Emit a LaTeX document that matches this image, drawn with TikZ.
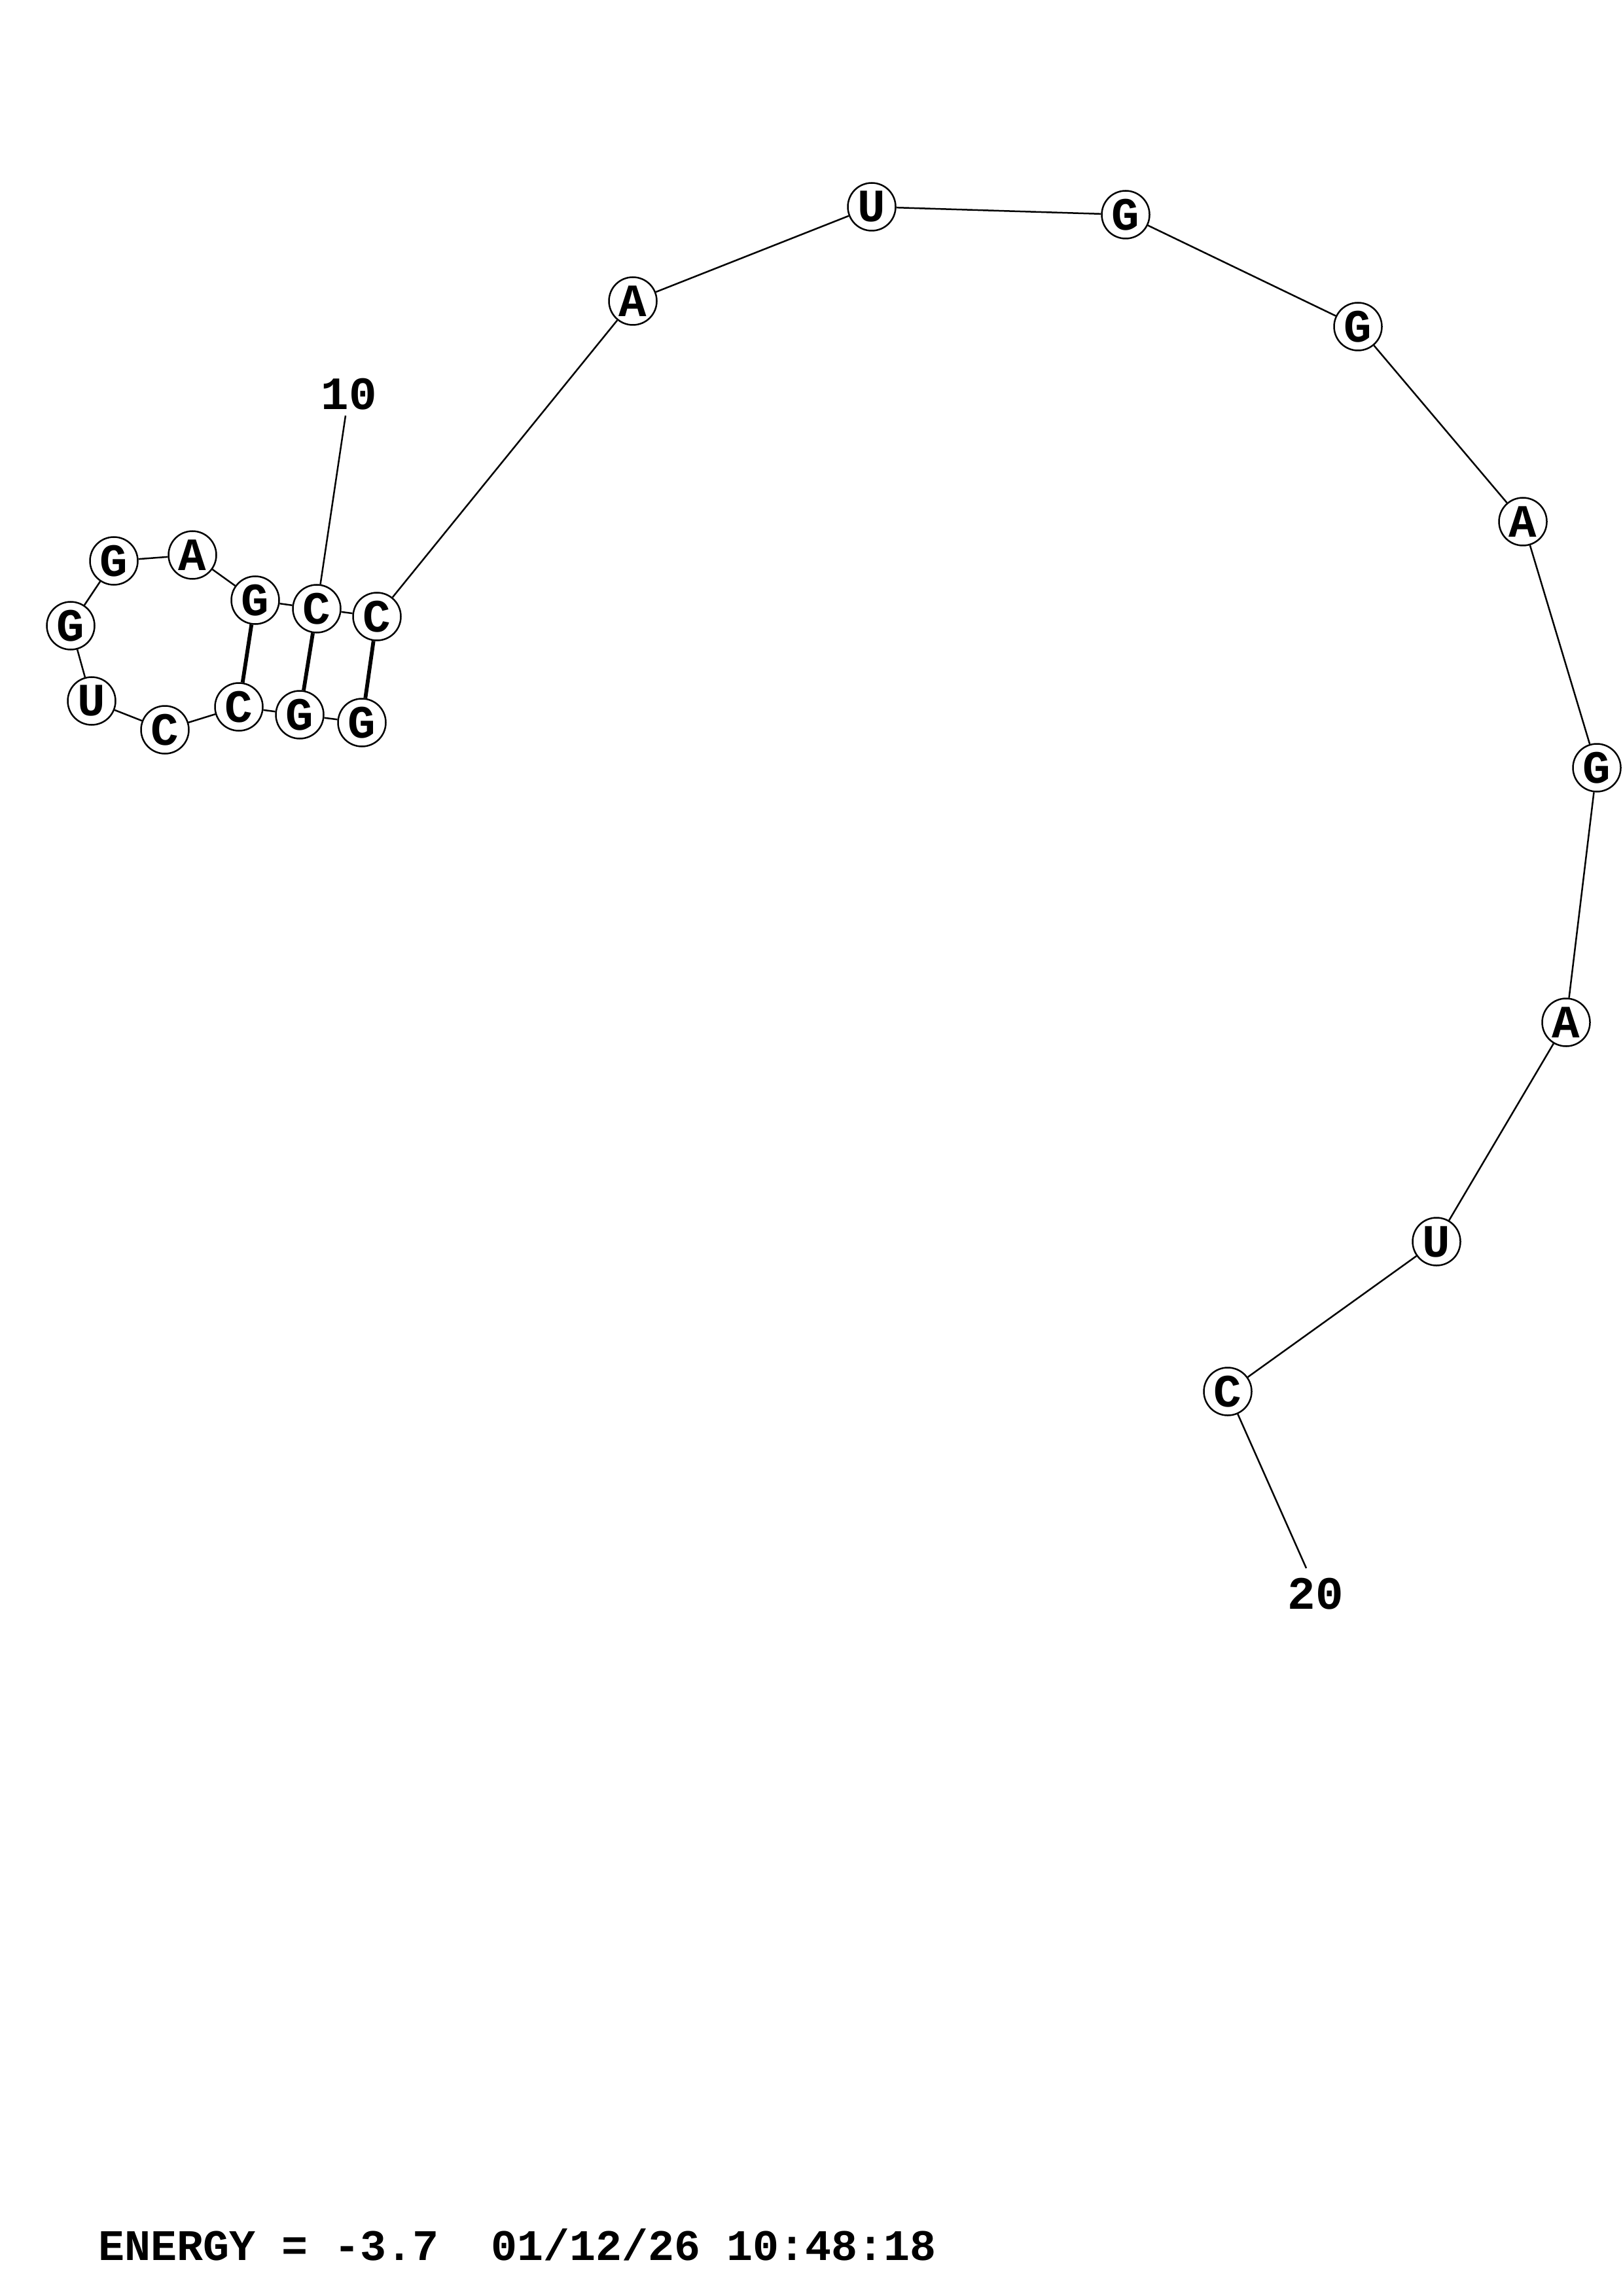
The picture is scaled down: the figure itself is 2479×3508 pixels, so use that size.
\documentclass[tikz,border=0pt]{standalone}
\usepackage{fontspec}
\setmonofont{Liberation Mono}
\begin{document}
\begin{tikzpicture}[x=0.24pt,y=-0.24pt,
  base/.style={circle,draw,line width=0.6pt,fill=white,minimum size=73*0.24pt,inner sep=0pt,font=\ttfamily\bfseries\fontsize{17}{17}\selectfont},
  bb/.style={line width=0.6pt},
  pair/.style={line width=1.4pt},
  lbl/.style={font=\ttfamily\bfseries\fontsize{17}{17}\selectfont,inner sep=0pt}]
\useasboundingbox (0,0) rectangle (2479,3508);
\fill[white] (0,0) rectangle (2479,3508);
\coordinate (e10) at (528,635);
\coordinate (e20) at (1996,2396);
\node[base] (n1) at (553,1104) {G};
\node[base] (n2) at (458,1092) {G};
\node[base] (n3) at (365,1080) {C};
\node[base] (n4) at (252,1115) {C};
\node[base] (n5) at (140,1071) {U};
\node[base] (n6) at (108,956) {G};
\node[base] (n7) at (174,857) {G};
\node[base] (n8) at (294,848) {A};
\node[base] (n9) at (390,917) {G};
\node[base] (n10) at (484,930) {C};
\node[base] (n11) at (576,942) {C};
\node[base] (n12) at (967,460) {A};
\node[base] (n13) at (1332,316) {U};
\node[base] (n14) at (1720,328) {G};
\node[base] (n15) at (2075,499) {G};
\node[base] (n16) at (2327,797) {A};
\node[base] (n17) at (2440,1173) {G};
\node[base] (n18) at (2393,1562) {A};
\node[base] (n19) at (2195,1897) {U};
\node[base] (n20) at (1876,2126) {C};
\foreach \a/\b in {n1/n2,n2/n3,n3/n4,n4/n5,n5/n6,n6/n7,n7/n8,n8/n9,n9/n10,n10/n11,n11/n12,n12/n13,n13/n14,n14/n15,n15/n16,n16/n17,n17/n18,n18/n19,n19/n20}
  \draw[bb] (\a) -- (\b);
\draw[pair] (n1) -- (n11);
\draw[pair] (n2) -- (n10);
\draw[pair] (n3) -- (n9);
\draw[bb] (n10) -- (e10);
\draw[bb] (n20) -- (e20);
\node[lbl] (l10) at (533,602) {10};
\node[lbl] (l20) at (2010,2435) {20};
\node[lbl,anchor=base west,font=\ttfamily\bfseries\fontsize{16}{16}\selectfont] (energy) at (150,3453) {ENERGY = -3.7\ \ 01/12/26 10:48:18};
\end{tikzpicture}
\end{document}
